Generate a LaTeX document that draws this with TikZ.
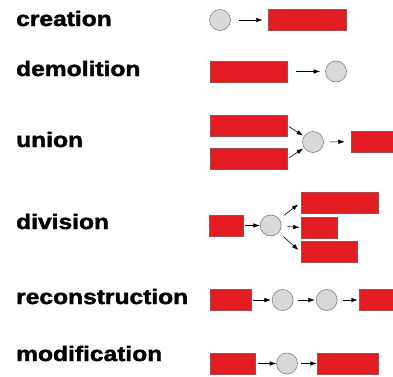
\documentclass[tikz,border=0pt]{standalone}
\usepackage{fontspec}
\newfontfamily\rowfont[FakeStretch=1.17,FakeBold=2]{Liberation Sans Bold}
\usetikzlibrary{arrows.meta}
\definecolor{parcelred}{HTML}{E31B23}
\definecolor{parceledge}{HTML}{A8494C}
\definecolor{eventgray}{HTML}{D9D9D9}
\definecolor{eventedge}{HTML}{7F7F7F}
\begin{document}
\begin{tikzpicture}[x=1pt,y=-1pt,
  rowtext/.style={anchor=base west,inner sep=0pt,font=\rowfont\fontsize{21}{21}\selectfont},
  parcel/.style={draw=parceledge,line width=0.5pt,fill=parcelred,inner sep=0pt,minimum height=21pt},
  event/.style={circle,draw=eventedge,line width=0.6pt,fill=eventgray,inner sep=0pt,minimum size=21pt},
  flow/.style={-{Latex[length=6.5pt,width=4.5pt]},line width=0.6pt,shorten <=2pt,shorten >=1pt}]
\useasboundingbox (0,0) rectangle (393,376);
\clip (0,0) rectangle (393,376);
\node[rowtext] (tcre) at (16,26) {creation};
\node[rowtext] (tdem) at (16,76) {demolition};
\node[rowtext] (tuni) at (16,147) {union};
\node[rowtext] (tdiv) at (16,229) {division};
\node[rowtext] (trec) at (16,304) {reconstruction};
\node[rowtext] (tmod) at (16,361) {modification};
% creation
\node[event] (cre0) at (220,20) {};
\node[parcel,minimum width=78pt] (cre1) at (307,20) {};
\draw[flow,shorten <=8pt,shorten >=5pt] (cre0) -- (cre1);
% demolition
\node[parcel,minimum width=77pt] (dem0) at (248.5,71.5) {};
\node[event] (dem1) at (336,71.5) {};
\draw[flow,shorten <=9pt,shorten >=5pt] (dem0) -- (dem1);
% union
\node[parcel,minimum width=77pt] (uni0) at (248.5,125.5) {};
\node[parcel,minimum width=77pt] (uni1) at (248.5,159) {};
\node[event] (uni2) at (313,142) {};
\node[parcel,minimum width=49pt] (uni3) at (375.5,141.5) {};
\draw[flow] (uni0.east) -- (uni2);
\draw[flow] (uni1.east) -- (uni2);
\draw[flow,shorten <=6pt,shorten >=6pt] (uni2) -- (uni3);
% division
\node[parcel,minimum width=34pt] (div0) at (226,225.5) {};
\node[event] (div1) at (270.7,225.5) {};
\node[parcel,minimum width=77pt] (div2) at (339.5,202.5) {};
\node[parcel,minimum width=36pt] (div3) at (319,227.5) {};
\node[parcel,minimum width=56pt] (div4) at (329,252) {};
\draw[flow,shorten >=0pt] (div0) -- (div1);
\draw[flow,shorten <=6pt,shorten >=3pt] (div1) -- (div2.west);
\draw[flow,shorten <=6pt,shorten >=1pt] (div1) -- (div3.west);
\draw[flow,shorten <=6pt,shorten >=3pt] (div1) -- (div4.west);
% reconstruction
\node[parcel,minimum width=41pt] (rec0) at (230.5,300) {};
\node[event] (rec1) at (282.7,300) {};
\node[event] (rec2) at (326.7,300) {};
\node[parcel,minimum width=41pt] (rec3) at (379.5,300) {};
\draw[flow] (rec0) -- (rec1);
\draw[flow,shorten <=4pt] (rec1) -- (rec2);
\draw[flow,shorten <=5pt,shorten >=1pt] (rec2) -- (rec3);
% modification
\node[parcel,minimum width=45pt] (mod0) at (232.5,363.5) {};
\node[event] (mod1) at (287,363.5) {};
\node[parcel,minimum width=61pt] (mod2) at (347.5,363.5) {};
\draw[flow,shorten <=3pt,shorten >=0pt] (mod0) -- (mod1);
\draw[flow,shorten <=3pt,shorten >=0pt] (mod1) -- (mod2);
\end{tikzpicture}
\end{document}
